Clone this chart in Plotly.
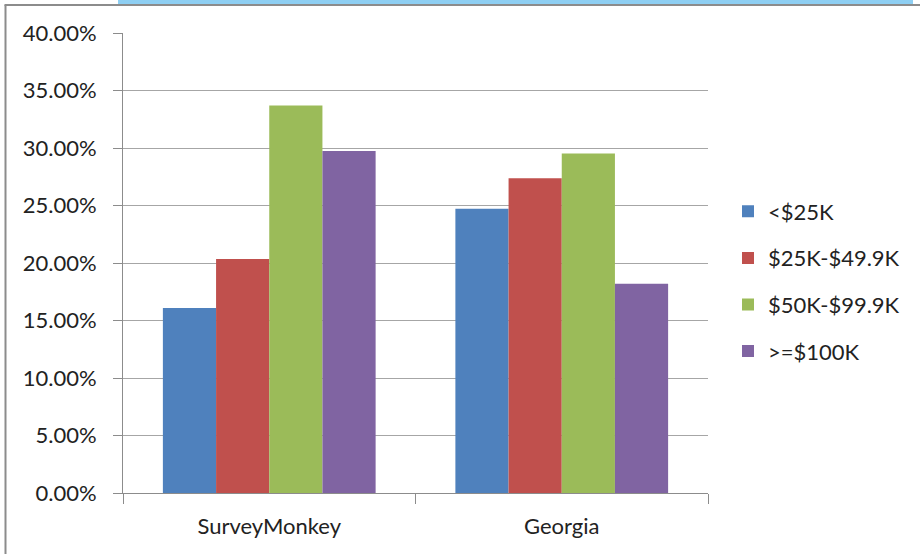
import plotly.graph_objects as go

categories = ["SurveyMonkey", "Georgia"]
series_names = ["<$25K", "$25K-$49.9K", "$50K-$99.9K", ">=$100K"]
values_lt25 = [0.1608, 0.2471]
values_25_50 = [0.2034, 0.2738]
values_50_100 = [0.3370, 0.2952]
values_ge100 = [0.2973, 0.1819]
colors = ["#4F81BD", "#C0504D", "#9BBB59", "#8064A2"]
y_ticks = [0, 0.05, 0.10, 0.15, 0.20, 0.25, 0.30, 0.35, 0.40]

FONT = "Lato"
FS = 22
W, H = 920, 554
L, R, T, B = 123, 212, 33, 61

fig = go.Figure()
for i, (name, vals) in enumerate(zip(series_names, [values_lt25, values_25_50, values_50_100, values_ge100])):
    fig.add_trace(go.Bar(
        x=categories, y=vals, name=name,
        marker=dict(color=colors[i], line=dict(width=0)),
        legendgroup=str(i),
    ))

pw = W - L - R
ph = H - T - B
def px2x(px):
    return (px - L) / pw
def py2y(py):
    return (H - B - py) / ph

shapes = [
    # light blue band at top
    dict(type="rect", xref="paper", yref="paper", x0=px2x(118), x1=px2x(913), y0=py2y(4), y1=py2y(0),
         fillcolor="#8ECFF3", line=dict(width=0), layer="below"),
    # chart border top
    dict(type="line", xref="paper", yref="paper", x0=px2x(4.5), x1=px2x(925), y0=py2y(5), y1=py2y(5),
         line=dict(color="#8C8C8C", width=2), layer="above"),
    # chart border left
    dict(type="line", xref="paper", yref="paper", x0=px2x(5.5), x1=px2x(5.5), y0=py2y(5), y1=py2y(560),
         line=dict(color="#8C8C8C", width=2), layer="above"),
]

fig.update_layout(
    width=W, height=H,
    margin=dict(l=L, r=R, t=T, b=B, pad=0),
    paper_bgcolor="white", plot_bgcolor="white",
    barmode="group", bargap=0.2727, bargroupgap=0,
    font=dict(family=FONT, size=FS, color="#222222"),
    showlegend=True,
    legend=dict(x=px2x(728), xanchor="left", y=py2y(281.5), yanchor="middle",
                font=dict(family=FONT, size=FS, color="#222222"),
                tracegroupgap=15, bgcolor="rgba(0,0,0,0)", borderwidth=0),
    shapes=shapes,
    xaxis=dict(showline=True, linecolor="#8C8C8C", linewidth=1, ticks="outside", tickson="boundaries",
               ticklen=10, tickcolor="#8C8C8C", showgrid=False, ticklabelstandoff=14,
               tickfont=dict(family=FONT, size=FS, color="#222222")),
    yaxis=dict(range=[0, 0.4], tickvals=y_ticks, tickformat=".2%", showline=True, linecolor="#8C8C8C",
               linewidth=1, ticks="outside", ticklen=9, tickcolor="#8C8C8C", showgrid=True,
               gridcolor="#A6A6A6", gridwidth=1, zeroline=False, ticklabelstandoff=12,
               tickfont=dict(family=FONT, size=FS, color="#222222")),
)

fig.write_html("out.html", config={"displayModeBar": False},
               post_script="document.body.style.margin='0';document.body.style.overflow='hidden';")
